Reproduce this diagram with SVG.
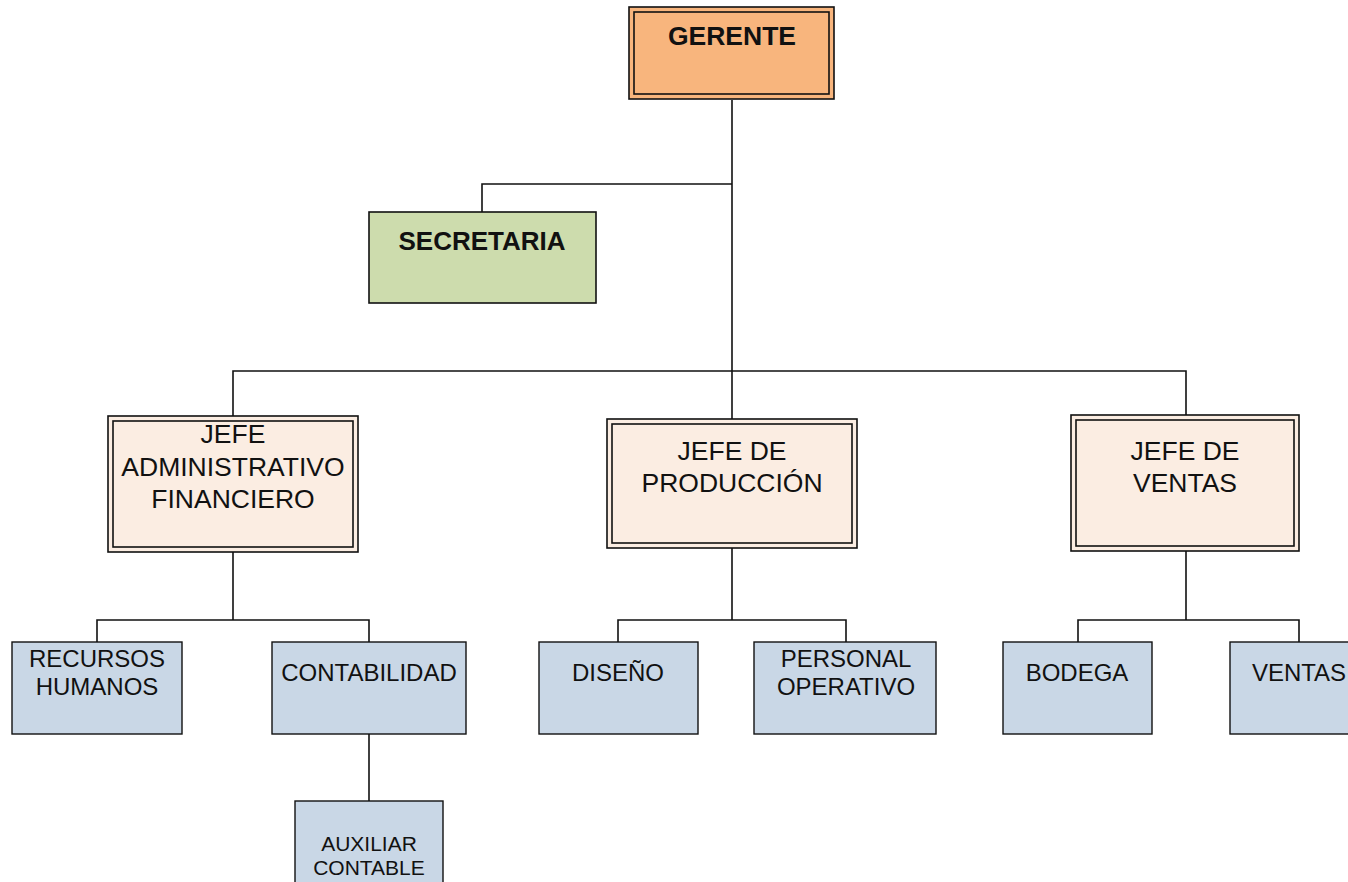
<svg xmlns="http://www.w3.org/2000/svg" width="1348" height="882" viewBox="0 0 1348 882">
<style>
text{font-family:"Liberation Sans",Arial,sans-serif;fill:#111;text-anchor:middle}
.b{font-weight:bold}
.j{font-size:26.5px}
.s{font-size:24px}
.o{stroke:#111;stroke-width:1.6}
.i{fill:none;stroke:#111;stroke-width:1.6}
.lo{fill:#c9d7e6;stroke:#111;stroke-width:1.4}
.jf{fill:#fbede2}
.c{fill:none;stroke:#111;stroke-width:1.6}
</style>
<rect width="1348" height="882" fill="#fff"/>
<g id="connectors">
<path class="c" d="M732 100V371M732 184H482V212M233 416V371H1186V415M732 371V419"/>
<path class="c" d="M233 552V620M97 642V620H369V642"/>
<path class="c" d="M732 548V620M618 642V620H846V642"/>
<path class="c" d="M1186 551V620M1078 642V620H1299V642"/>
<path class="c" d="M369 734V801"/>
</g>
<g id="gerente">
<rect class="o" x="629" y="7" width="205" height="92" fill="#f8b57d"/>
<rect class="i" x="634" y="12" width="195" height="82"/>
<text class="b" x="732" y="45" font-size="26.5">GERENTE</text>
</g>
<g id="secretaria">
<rect class="o" x="369" y="212" width="227" height="91" fill="#cddcad"/>
<text class="b" x="482" y="250" font-size="26">SECRETARIA</text>
</g>
<g id="jefe-admin">
<rect class="o jf" x="108" y="416" width="250" height="136"/>
<rect class="i" x="113" y="421" width="240" height="126"/>
<text class="j" x="233" y="443">JEFE</text>
<text class="j" x="233" y="476">ADMINISTRATIVO</text>
<text class="j" x="233" y="508">FINANCIERO</text>
</g>
<g id="jefe-produccion">
<rect class="o jf" x="607" y="419" width="250" height="129"/>
<rect class="i" x="612" y="424" width="240" height="119"/>
<text class="j" x="732" y="460">JEFE DE</text>
<text class="j" x="732" y="492">PRODUCCIÓN</text>
</g>
<g id="jefe-ventas">
<rect class="o jf" x="1071" y="415" width="228" height="136"/>
<rect class="i" x="1076" y="420" width="218" height="126"/>
<text class="j" x="1185" y="460">JEFE DE</text>
<text class="j" x="1185" y="492">VENTAS</text>
</g>
<g id="recursos-humanos">
<rect class="lo" x="12" y="642" width="170" height="92"/>
<text class="s" x="97" y="667">RECURSOS</text>
<text class="s" x="97" y="695">HUMANOS</text>
</g>
<g id="contabilidad">
<rect class="lo" x="272" y="642" width="194" height="92"/>
<text class="s" x="369" y="681">CONTABILIDAD</text>
</g>
<g id="diseno">
<rect class="lo" x="539" y="642" width="159" height="92"/>
<text class="s" x="618" y="681">DISEÑO</text>
</g>
<g id="personal-operativo">
<rect class="lo" x="754" y="642" width="182" height="92"/>
<text class="s" x="846" y="667">PERSONAL</text>
<text class="s" x="846" y="695">OPERATIVO</text>
</g>
<g id="bodega">
<rect class="lo" x="1003" y="642" width="149" height="92"/>
<text class="s" x="1077" y="681">BODEGA</text>
</g>
<g id="ventas">
<rect class="lo" x="1230" y="642" width="140" height="92"/>
<text class="s" x="1299" y="681">VENTAS</text>
</g>
<g id="auxiliar-contable">
<rect class="lo" x="295" y="801" width="148" height="90"/>
<text x="369" y="851" font-size="21">AUXILIAR</text>
<text x="369" y="875" font-size="21">CONTABLE</text>
</g>
</svg>
